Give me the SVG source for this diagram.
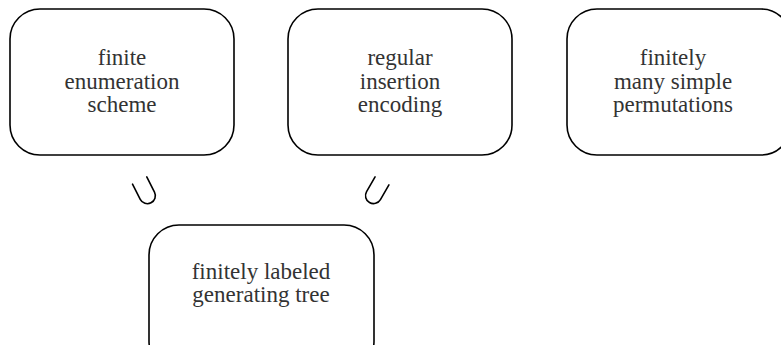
<svg xmlns="http://www.w3.org/2000/svg" width="781" height="345" viewBox="0 0 781 345">
<style>
.box{fill:#fff;stroke:#000;stroke-width:1.6}
.t{font-family:"Liberation Serif",serif;font-size:23px;fill:#333;text-anchor:middle}
.s{fill:none;stroke:#000;stroke-width:1.6;stroke-linecap:round}
</style>
<rect width="781" height="345" fill="#fff"/>
<g id="n1"><rect class="box" x="10" y="9" width="224" height="146" rx="30"/>
<text class="t" x="122" y="65">finite</text><text class="t" x="122" y="88.5">enumeration</text><text class="t" x="122" y="112">scheme</text></g>
<g id="n2"><rect class="box" x="288" y="9" width="224" height="146" rx="30"/>
<text class="t" x="400" y="65">regular</text><text class="t" x="400" y="88.5">insertion</text><text class="t" x="400" y="112">encoding</text></g>
<g id="n3"><rect class="box" x="567" y="9" width="224" height="146" rx="30"/>
<text class="t" x="673" y="65">finitely</text><text class="t" x="673" y="88.5">many simple</text><text class="t" x="673" y="112">permutations</text></g>
<g id="n4"><rect class="box" x="149" y="225" width="225" height="146" rx="30"/>
<text class="t" x="261" y="279">finitely labeled</text><text class="t" x="261" y="302">generating tree</text></g>
<g id="connectors">
<path class="s" transform="translate(146,193) rotate(-27)" d="M -8 -14 L -8 3 A 8 8 0 0 0 8 3 L 8 -14"/>
<path class="s" transform="translate(375,193) rotate(30)" d="M -8 -14 L -8 3 A 8 8 0 0 0 8 3 L 8 -14"/>
</g>
</svg>
